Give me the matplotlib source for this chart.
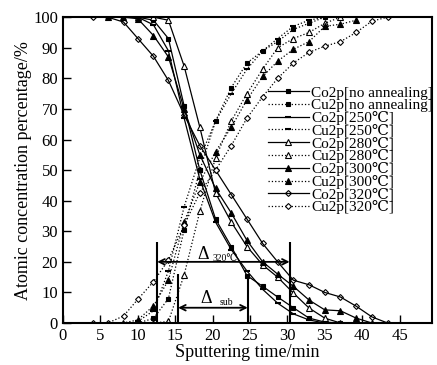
import matplotlib
matplotlib.use('Agg')
import matplotlib.pyplot as plt

#############################################################################################
# DATA
#############################################################################################

# Co2p curves (solid lines)
t_co_na = [8.0, 10.0, 12.1, 14.1, 16.2, 18.3, 20.4, 22.5, 24.6, 26.7, 28.7, 30.8, 32.9, 35.0, 37.1]
co_na = [100, 100, 99, 93, 71, 50, 34, 25, 15.5, 12, 8.5, 5, 1.6, 0.3, 0]

t_co_250 = [8.0, 10.0, 12.1, 14.1, 16.2, 18.3, 20.4, 22.5, 24.6, 26.7, 28.7, 30.8, 32.9, 35.0]
co_250 = [100, 100, 97.5, 89, 67, 47, 33, 24, 17, 11, 6.5, 3, 1, 0]

t_co_280 = [10.0, 12.1, 14.1, 16.2, 18.3, 20.4, 22.5, 24.6, 26.7, 28.7, 30.8, 32.9, 35.0, 37.1]
co_280 = [100, 100, 99, 84, 64, 42.5, 33, 25, 19, 15, 9.8, 4.9, 1.6, 0]

t_co_300 = [6.0, 8.0, 10.0, 12.1, 14.1, 16.2, 18.3, 20.4, 22.5, 24.6, 26.7, 28.7, 30.8, 32.9, 35.0, 37.1, 39.2, 41.3]
co_300 = [100, 100, 99.5, 94, 87, 70, 55, 44, 36, 27, 20, 16, 12, 7.5, 4.3, 4, 1.6, 0]

t_co_320 = [4.0, 6.0, 8.1, 10.1, 12.1, 14.1, 16.2, 18.3, 20.4, 22.5, 24.6, 26.7, 28.7, 30.8, 32.9, 35.0, 37.1, 39.2, 41.3, 43.4]
co_320 = [100, 100, 98.4, 92.8, 87.2, 79.3, 68, 58, 50, 42, 34, 26, 20, 14, 12.5, 10, 8.5, 5.5, 2, 0]

# Cu2p curves (dotted lines)
t_cu_na = [10.0, 12.1, 14.1, 16.2, 18.3, 20.4, 22.5, 24.6, 26.7, 28.7, 30.8, 32.9, 35.0]
cu_na = [0, 1.5, 8, 30.5, 50, 66, 77, 85, 89, 92, 96, 98, 100]

t_cu_250 = [10.0, 12.1, 14.1, 16.2, 18.3, 20.4, 22.5, 24.6, 26.7, 28.7, 30.8, 32.9, 35.0]
cu_250 = [0.5, 4, 17, 38, 54, 66, 75, 83, 89, 93, 97, 99, 100]

t_cu_280 = [12.1, 14.1, 16.2, 18.3, 20.4, 22.5, 24.6, 26.7, 28.7, 30.8, 32.9, 35.0, 37.1]
cu_280 = [0, 0.5, 15.7, 36.5, 54, 66, 75, 83, 90, 93, 95, 98, 100]

t_cu_300 = [8.0, 10.0, 12.1, 14.1, 16.2, 18.3, 20.4, 22.5, 24.6, 26.7, 28.7, 30.8, 32.9, 35.0, 37.1, 39.2]
cu_300 = [0, 1, 5.6, 14, 33, 46, 56, 64, 73, 80.6, 85.6, 89.5, 92, 97, 97.7, 99]

t_cu_320 = [4.0, 6.0, 8.1, 10.1, 12.1, 14.1, 16.2, 18.3, 20.4, 22.5, 24.6, 26.7, 28.7, 30.8, 32.9, 35.0, 37.1, 39.2, 41.3, 43.4]
cu_320 = [0, 0, 2.3, 8, 13.5, 20.6, 32, 42.6, 50, 58, 67, 74, 80, 85, 88.5, 90.5, 92, 95, 98.7, 100]

labels = ['Co2p[no annealing]', 'Cu2p[no annealing]', 'Co2p[250℃]', 'Cu2p[250℃]',
          'Co2p[280℃]', 'Cu2p[280℃]', 'Co2p[300℃]', 'Cu2p[300℃]',
          'Co2p[320℃]', 'Cu2p[320℃]']

# interval markers
delta_320 = [12.6, 30.3]
delta_sub = [15.4, 24.7]

#############################################################################################
# PLOT
#############################################################################################

plt.rcParams['font.family'] = ['Liberation Serif', 'DejaVu Serif', 'DejaVu Sans']

fig = plt.figure(figsize=(4.37, 3.65), dpi=100)
ax = fig.add_axes([0.144, 0.115, 0.844, 0.838])

series = [
    (t_co_na, co_na, '-', dict(marker='s', ms=3.5, mfc='black')),
    (t_cu_na, cu_na, ':', dict(marker='s', ms=3.5, mfc='black')),
    (t_co_250, co_250, '-', dict(marker='_', ms=4, mew=1.5)),
    (t_cu_250, cu_250, ':', dict(marker='_', ms=4, mew=1.5)),
    (t_co_280, co_280, '-', dict(marker='^', ms=4, mfc='white')),
    (t_cu_280, cu_280, ':', dict(marker='^', ms=4, mfc='white')),
    (t_co_300, co_300, '-', dict(marker='^', ms=4, mfc='black')),
    (t_cu_300, cu_300, ':', dict(marker='^', ms=4, mfc='black')),
    (t_co_320, co_320, '-', dict(marker='D', ms=3, mfc='none')),
    (t_cu_320, cu_320, ':', dict(marker='D', ms=3, mfc='white')),
]
for (t, y, ls, mk), lab in zip(series, labels):
    ax.plot(t, y, ls, color='black', lw=0.9, mec='black', mew=mk.pop('mew', 0.8),
            label=lab, **mk)

# Delta intervals
ax.vlines(delta_320, 0, 26.5, color='black', lw=1.5)
ax.vlines(delta_sub, 0, 16, color='black', lw=1.5)
ax.annotate('', xy=(delta_320[0], 20), xytext=(delta_320[1], 20),
            arrowprops=dict(arrowstyle='<->', lw=1.3, color='black', shrinkA=0, shrinkB=0))
ax.annotate('', xy=(delta_sub[0], 5), xytext=(delta_sub[1], 5),
            arrowprops=dict(arrowstyle='<->', lw=1.3, color='black', shrinkA=0, shrinkB=0))
ax.text(18.0, 21.0, 'Δ', fontsize=13)
ax.text(20.0, 20.3, '320℃', fontsize=7)
ax.text(18.4, 6.6, 'Δ', fontsize=13)
ax.text(21.0, 6.0, 'sub', fontsize=7)

ax.set_xlim(0, 49.3)
ax.set_ylim(0, 100)
ax.set_xticks(range(0, 50, 5))
ax.set_yticks(range(0, 101, 10))
ax.tick_params(direction='in', length=6, width=1, labelsize=12)
for s in ax.spines.values():
    s.set_linewidth(1.5)

ax.set_xlabel('Sputtering time/min', fontsize=13, labelpad=0)
ax.set_ylabel('Atomic concentration percentage/%', fontsize=13, labelpad=1)

ax.legend(loc='upper left', bbox_to_anchor=(0.555, 0.775), frameon=False, fontsize=11,
          handlelength=2.7, handletextpad=0.15, labelspacing=-0.08, borderpad=0,
          borderaxespad=0)

plt.savefig('out.png', dpi=100)
